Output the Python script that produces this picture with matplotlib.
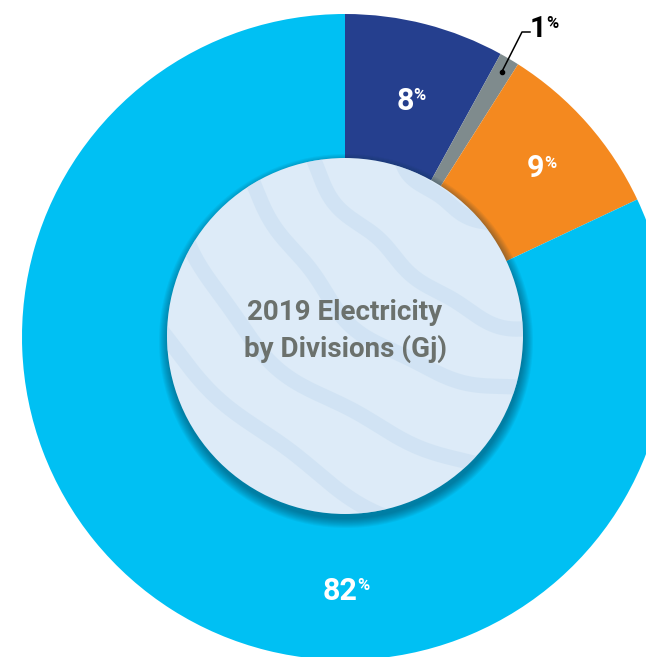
import numpy as np
import matplotlib.pyplot as plt
from matplotlib.patches import Circle

# data
divisions = ['Division A', 'Division B', 'Division C', 'Division D']
shares = [8, 1, 9, 82]
colors = ['#253f8e', '#7f8b8d', '#f4891f', '#00c0f3']
title = '2019 Electricity\nby Divisions (Gj)'

FONT = ['Roboto', 'DejaVu Sans']

W, H = 646, 657
fig = plt.figure(figsize=(W / 100, H / 100), dpi=100)
ax = fig.add_axes([0, 0, 1, 1])

cx, cy = 345, 320
R = 323
r_in = 178

wedges, _ = ax.pie(shares, colors=colors, startangle=90, counterclock=False,
                   radius=R, center=(cx, cy),
                   wedgeprops=dict(linewidth=0, antialiased=True))

# shadow under the inner disc
for k in range(10):
    ax.add_patch(Circle((cx + 1, cy - 4), r_in + 9 - k, color='#0b2f45',
                        alpha=0.055, lw=0, zorder=3))

disc = Circle((cx, cy + 1), r_in, facecolor='#ddebf8', edgecolor='none', zorder=4)
ax.add_patch(disc)

# watercolour-like bands in the disc
t = np.linspace(0, 1, 300)
for i, rr in enumerate([140, 210, 290, 360, 440, 510]):
    ang = np.radians(175 + 100 * t)
    wob = 5 * np.sin(t * 13 + 2 * i) + 3 * np.sin(t * 31 + i)
    bx = 580 + (rr + wob) * np.cos(ang)
    by = (H - 40) + (rr + wob) * np.sin(ang)
    ln, = ax.plot(bx, by, color='#c3dbf0', lw=11, alpha=0.45,
                  solid_capstyle='round', zorder=5)
    ln.set_clip_path(disc)

ax.text(cx, cy + 6, title, ha='center', va='center', fontsize=20,
        fontweight='bold', color='#6b716d', family=FONT, linespacing=1.4,
        zorder=6)

# percentage labels
cum = np.cumsum([0] + shares)
label_r = [244, None, 255, 254]
for i, v in enumerate(shares):
    if v < 2:
        continue
    mid = (cum[i] + cum[i + 1]) / 2 / 100.0
    a = np.radians(90 - 360 * mid)
    if v > 50:
        a = np.radians(-89)
    x = cx + label_r[i] * np.cos(a) + 8
    y = cy + label_r[i] * np.sin(a)
    ax.text(x, y, str(v), ha='right', va='center', fontsize=22,
            fontweight='bold', color='white', family=FONT, zorder=6)
    ax.text(x, y + 5, '%', ha='left', va='center', fontsize=12,
            fontweight='bold', color='white', family=FONT, zorder=6)

# leader for the small slice
mid = (cum[1] + cum[2]) / 2 / 100.0
a = np.radians(90 - 360 * mid)
px, py = cx + 308 * np.cos(a), cy + 308 * np.sin(a)
ax.plot([px, 522, 530], [py, 625, 625], color='black', lw=1.1, zorder=6)
ax.plot(px, py, 'o', color='black', ms=3, zorder=7)
ax.text(546, 628, str(shares[1]), ha='right', va='center', fontsize=21,
        fontweight='bold', color='black', family=FONT, zorder=6)
ax.text(546, 634, '%', ha='left', va='center', fontsize=12,
        fontweight='bold', color='black', family=FONT, zorder=6)

ax.set_xlim(0, W)
ax.set_ylim(0, H)
ax.set_aspect('equal')
ax.axis('off')

fig.savefig('out.png', dpi=100)
